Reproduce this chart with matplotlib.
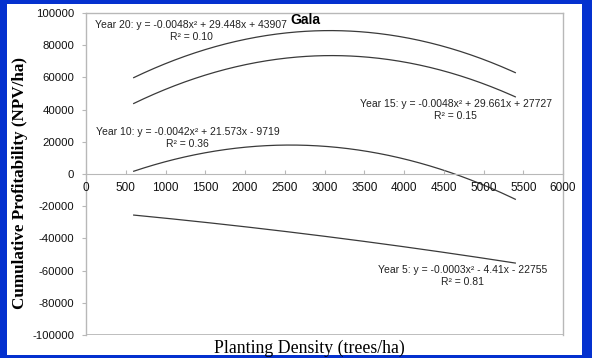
import numpy as np
import matplotlib
matplotlib.use("Agg")
import matplotlib.pyplot as plt
from matplotlib.patches import Rectangle

# Quadratic trendlines of cumulative NPV vs planting density (Gala)
YEARS = ["Year 20", "Year 15", "Year 10", "Year 5"]
COEF_A = [-0.0048, -0.0048, -0.0042, -0.0003]
COEF_B = [29.448, 29.661, 21.573, -4.41]
COEF_C = [43907, 27727, -9719, -22755]
R2 = [0.10, 0.15, 0.36, 0.81]
DENSITY_MIN = 600
DENSITY_MAX = 5400

X_TICKS = [0, 500, 1000, 1500, 2000, 2500, 3000, 3500, 4000, 4500, 5000, 5500, 6000]
Y_TICKS = [-100000, -80000, -60000, -40000, -20000, 0, 20000, 40000, 60000, 80000, 100000]

# label anchor (centre of equation line) in data coords
LABEL_POS = [(1320, 92500), (4650, 43500), (1280, 26100), (4740, -59600)]

BLUE = "#0431cf"
GRAY = "#b8b8b8"
LINE = "#3a3a3a"


def eq_text(a, b, c):
    def term(v):
        return ("-" if v < 0 else "+"), f"{abs(v):g}"
    sb, vb = term(b)
    sc, vc = term(c)
    return f"y = {a:g}x\u00b2 {sb} {vb}x {sc} {vc}"


fig = plt.figure(figsize=(5.92, 3.58), dpi=100)
fig.patch.set_facecolor(BLUE)
fig.patches.append(Rectangle((7 / 592, 3 / 358), 575 / 592, 351 / 358,
                             transform=fig.transFigure, facecolor="white",
                             edgecolor="none", zorder=-10))

ax = fig.add_axes([86 / 592, 1 - 335 / 358, (563 - 86) / 592, (335 - 13) / 358])
ax.set_facecolor("white")

x = np.linspace(DENSITY_MIN, DENSITY_MAX, 300)
for i, name in enumerate(YEARS):
    y = COEF_A[i] * x ** 2 + COEF_B[i] * x + COEF_C[i]
    ax.plot(x, y, color=LINE, lw=0.9, zorder=3)
    lx, ly = LABEL_POS[i]
    ax.text(lx, ly, f"{name}: " + eq_text(COEF_A[i], COEF_B[i], COEF_C[i]),
            fontsize=7.5, family="Liberation Sans", color="#222222",
            ha="center", va="center", zorder=4)
    ax.text(lx, ly - 7300, f"R\u00b2 = {R2[i]:.2f}", fontsize=7.5,
            family="Liberation Sans", color="#222222",
            ha="center", va="center", zorder=4)

ax.set_xlim(0, 6000)
ax.set_ylim(-100000, 100000)
ax.set_xticks(X_TICKS)
ax.set_yticks(Y_TICKS)
ax.set_yticklabels([str(v) for v in Y_TICKS])

for side in ["top", "right", "left"]:
    ax.spines[side].set_color(GRAY)
    ax.spines[side].set_linewidth(1.0)
ax.spines["bottom"].set_visible(False)
ax.axhline(-100000, color=GRAY, lw=2.0, zorder=2)

# horizontal axis crosses at zero
ax2 = ax.twiny()
ax2.set_xlim(ax.get_xlim())
ax2.spines["bottom"].set_position(("data", 0))
for side in ["top", "right", "left"]:
    ax2.spines[side].set_visible(False)
ax2.spines["bottom"].set_color(GRAY)
ax2.xaxis.set_ticks_position("bottom")
ax2.xaxis.set_label_position("bottom")
ax2.set_xticks(X_TICKS)
ax2.set_xticklabels([str(v) for v in X_TICKS])
ax2.tick_params(axis="x", direction="in", length=3, color=GRAY, pad=6,
                labelsize=8.5, labelcolor="#111111")
for lab in ax2.get_xticklabels():
    lab.set_family("Liberation Sans")

ax.tick_params(axis="x", bottom=False, labelbottom=False)
ax.tick_params(axis="y", direction="out", length=3, color=GRAY, pad=5.5,
               labelsize=8.2, labelcolor="#111111")
for lab in ax.get_yticklabels():
    lab.set_family("Liberation Sans")

ax.text(0.46, 0.977, "Gala", transform=ax.transAxes, fontsize=10,
        fontweight="bold", family="Liberation Sans", ha="center", va="center",
        zorder=5)

fig.text(0.034, 0.49, "Cumulative Profitability (NPV/ha)", rotation=90,
         fontsize=12.3, fontweight="bold", family="Liberation Serif",
         ha="center", va="center")
fig.text(0.523, 0.028, "Planting Density (trees/ha)", fontsize=12.8,
         family="Liberation Serif", ha="center", va="center")

fig.savefig("out.png", dpi=100, facecolor=BLUE)
